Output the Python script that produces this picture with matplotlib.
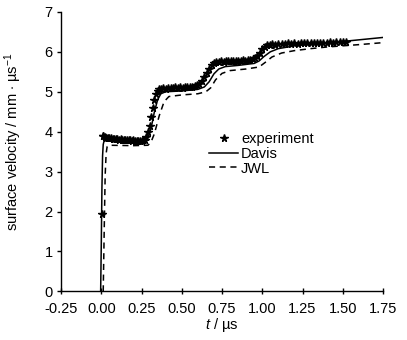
import numpy as np
import matplotlib
matplotlib.use("Agg")
import matplotlib.pyplot as plt
from matplotlib import font_manager

# Plot inputs
DPI = 100
FIGSIZE = (4.07, 3.40)
FONT_CANDIDATES = ["Liberation Sans Narrow", "Arial Narrow", "Liberation Sans"]
XLABEL = r"$\mathit{t}$ / µs"
YLABEL = r"surface velocity / mm $\cdot$ µs$^{-1}$"

# experiment (t [us], v [mm/us])
EXP_T = [0.005, 0.008, 0.012, 0.020, 0.030, 0.040, 0.050, 0.060, 0.070, 0.080,
         0.090, 0.100, 0.110, 0.120, 0.130, 0.140, 0.150, 0.160, 0.170, 0.180,
         0.190, 0.200, 0.210, 0.220, 0.230, 0.240, 0.250, 0.260, 0.270, 0.280,
         0.290, 0.300, 0.310, 0.320, 0.330, 0.340, 0.350, 0.360, 0.370, 0.385,
         0.400, 0.415, 0.430, 0.445, 0.460, 0.475, 0.490, 0.505, 0.520, 0.535,
         0.550, 0.565, 0.580, 0.595, 0.610, 0.625, 0.640, 0.655, 0.670, 0.685,
         0.700, 0.715, 0.730, 0.745, 0.760, 0.775, 0.790, 0.805, 0.820, 0.835,
         0.850, 0.865, 0.880, 0.895, 0.910, 0.925, 0.940, 0.955, 0.970, 0.985,
         1.000, 1.015, 1.030, 1.045, 1.060, 1.080, 1.100, 1.120, 1.140, 1.160,
         1.180, 1.200, 1.220, 1.240, 1.260, 1.280, 1.300, 1.320, 1.340, 1.360,
         1.380, 1.400, 1.420, 1.440, 1.460, 1.480, 1.500, 1.520]
EXP_V = [1.93, 3.88, 3.90, 3.87, 3.85, 3.84, 3.83, 3.84, 3.82, 3.81,
         3.82, 3.81, 3.80, 3.81, 3.79, 3.80, 3.79, 3.78, 3.79, 3.78,
         3.77, 3.78, 3.77, 3.76, 3.77, 3.76, 3.77, 3.78, 3.80, 3.86,
         3.98, 4.15, 4.38, 4.60, 4.80, 4.94, 5.02, 5.06, 5.08, 5.09,
         5.08, 5.10, 5.09, 5.10, 5.11, 5.10, 5.11, 5.10, 5.11, 5.12,
         5.11, 5.12, 5.14, 5.16, 5.20, 5.28, 5.38, 5.48, 5.58, 5.66,
         5.71, 5.74, 5.75, 5.76, 5.75, 5.77, 5.76, 5.77, 5.76, 5.78,
         5.77, 5.78, 5.79, 5.78, 5.80, 5.79, 5.81, 5.84, 5.90, 5.98,
         6.06, 6.12, 6.16, 6.18, 6.19, 6.18, 6.20, 6.19, 6.20, 6.21,
         6.20, 6.21, 6.20, 6.22, 6.21, 6.22, 6.21, 6.22, 6.23, 6.22,
         6.23, 6.22, 6.24, 6.23, 6.24, 6.25, 6.24, 6.25]

# Davis simulation
DAVIS_T = [-0.004, 0.000, 0.004, 0.008, 0.012, 0.018, 0.030, 0.100, 0.200,
           0.270, 0.290, 0.310, 0.330, 0.350, 0.370, 0.400, 0.500, 0.600,
           0.640, 0.670, 0.700, 0.730, 0.770, 0.850, 0.950, 0.980, 1.010,
           1.050, 1.100, 1.200, 1.300, 1.400, 1.500, 1.600, 1.750]
DAVIS_V = [0.00, 1.20, 2.60, 3.40, 3.68, 3.78, 3.82, 3.80, 3.78,
           3.79, 3.85, 4.10, 4.50, 4.80, 4.95, 5.00, 5.02, 5.06,
           5.12, 5.25, 5.45, 5.57, 5.63, 5.66, 5.71, 5.77, 5.88,
           6.00, 6.08, 6.15, 6.19, 6.23, 6.26, 6.30, 6.36]

# JWL simulation
JWL_T = [0.012, 0.018, 0.024, 0.030, 0.036, 0.050, 0.200, 0.290, 0.310,
         0.330, 0.360, 0.390, 0.420, 0.500, 0.600, 0.650, 0.680, 0.710,
         0.750, 0.800, 0.900, 0.980, 1.020, 1.060, 1.120, 1.200, 1.300,
         1.400, 1.500, 1.600, 1.750]
JWL_V = [0.00, 1.50, 2.90, 3.45, 3.62, 3.66, 3.65, 3.66, 3.75,
         3.95, 4.40, 4.75, 4.88, 4.92, 4.95, 5.00, 5.10, 5.30,
         5.46, 5.53, 5.57, 5.62, 5.74, 5.87, 5.97, 6.03, 6.08,
         6.12, 6.15, 6.18, 6.23]

XTICKS = [-0.25, 0.00, 0.25, 0.50, 0.75, 1.00, 1.25, 1.50, 1.75]
YTICKS = [0, 1, 2, 3, 4, 5, 6, 7]


def font_pick():
    names = {f.name for f in font_manager.fontManager.ttflist}
    for name in FONT_CANDIDATES:
        if name in names:
            return name
    return "DejaVu Sans"


def main():
    font = font_pick()
    # regular width fonts need a smaller size to fit the narrow original
    fontsize = 12.5 if "Narrow" in font else 10.5
    plt.rcParams["font.family"] = [font, "DejaVu Sans"]
    plt.rcParams["mathtext.fontset"] = "custom"
    plt.rcParams["mathtext.rm"] = font
    plt.rcParams["mathtext.it"] = font + ":italic"
    fig = plt.figure(figsize=FIGSIZE, dpi=DPI)
    ax = fig.add_axes([0.150, 0.143, 0.791, 0.822])
    ax.plot(DAVIS_T, DAVIS_V, c="black", lw=1.1, label="Davis", zorder=2)
    ax.plot(JWL_T, JWL_V, c="black", lw=1.1, ls=(0, (4, 3)), label="JWL",
            zorder=2)
    ax.plot(EXP_T, EXP_V, ls="none", marker="*", ms=5.5, c="black",
            label="experiment", zorder=3)
    ax.set_xlim(-0.25, 1.75)
    ax.set_ylim(0, 7)
    ax.set_xticks(XTICKS)
    ax.set_xticklabels([f"{e:.2f}" for e in XTICKS])
    ax.set_yticks(YTICKS)
    for s in ["top", "right"]:
        ax.spines[s].set_visible(False)
    for s in ["left", "bottom"]:
        ax.spines[s].set_linewidth(1.0)
    ax.tick_params(axis="x", direction="inout", length=4, width=1.0,
                   labelsize=fontsize, pad=6)
    ax.tick_params(axis="y", direction="out", length=3, width=1.0,
                   labelsize=fontsize, pad=3)
    ax.set_xlabel(XLABEL, fontsize=fontsize, labelpad=0)
    ax.set_ylabel(YLABEL, fontsize=fontsize)
    ax.yaxis.set_label_coords(-0.115, 0.535)
    handles, labels = ax.get_legend_handles_labels()
    order = [2, 0, 1]
    ax.legend([handles[i] for i in order], [labels[i] for i in order],
              frameon=False, loc="upper left", bbox_to_anchor=(0.46, 0.57),
              fontsize=fontsize, handlelength=2.0, handletextpad=0.2,
              labelspacing=0.05, borderpad=0, borderaxespad=0)
    fig.savefig("out.png", dpi=DPI)


if __name__ == "__main__":
    main()
